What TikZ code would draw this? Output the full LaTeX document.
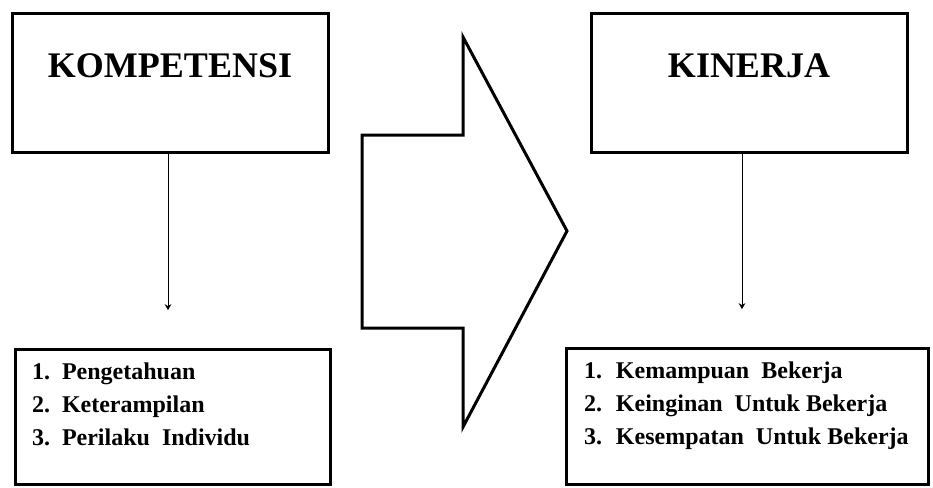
\documentclass[tikz,border=0pt]{standalone}
\usepackage{fontspec}
\setmainfont{Liberation Serif}
\usetikzlibrary{arrows.meta,positioning}

\begin{document}
\begin{tikzpicture}[x=0.75pt,y=-0.75pt,->,>={Stealth[length=4.5pt,width=5pt]},line width=0.75pt,
  box/.style={draw,rectangle,line width=2.25pt,inner sep=0pt},
  title/.style={font=\fontsize{27}{30}\selectfont\bfseries,inner sep=0pt},
  items/.style={font=\fontsize{18}{24.75}\selectfont\bfseries,align=left,inner sep=0pt}]
        \useasboundingbox (0,0) rectangle (933,487);
        % boxes
        \node [box, minimum width=237pt, minimum height=104.25pt] (komp) at (170,82.5) {};
        \node [box, minimum width=237pt, minimum height=104.25pt] (kin) at (749,82.5) {};
        \node [box, minimum width=236.25pt, minimum height=101.25pt] (kompList) at (172.5,416.5) {};
        \node [box, minimum width=271.5pt, minimum height=102pt] (kinList) at (747,416) {};
        % texts
        \node [title, below=31.5pt of komp.north] (kompTitle) {KOMPETENSI};
        \node [title, below=31.5pt of kin.north] (kinTitle) {KINERJA};
        \node [items, below right=11.5pt and 13.5pt of kompList.north west] (kompItems)
          {\makebox[22.5pt][l]{1.}Pengetahuan\\
           \makebox[22.5pt][l]{2.}Keterampilan\\
           \makebox[22.5pt][l]{3.}Perilaku\ \ Individu};
        \node [items, below right=11.5pt and 14.25pt of kinList.north west] (kinItems)
          {\makebox[24pt][l]{1.}Kemampuan\ \ Bekerja\\
           \makebox[24pt][l]{2.}Keinginan\ \ Untuk Bekerja\\
           \makebox[24pt][l]{3.}Kesempatan\ \ Untuk Bekerja};
        % connectors
        \draw [shorten >=28pt] ([xshift=-1.5pt]komp.south) -- ([xshift=-1.5pt]komp.south |- kompList.north);
        \draw [shorten >=28pt] ([xshift=-5.25pt]kin.south) -- ([xshift=-5.25pt]kin.south |- kinList.north);
        % big arrow
        \draw [-, line width=2.25pt] (362,135) -- (463,135) -- (463,37) -- (567,231)
          -- (463,427) -- (463,328) -- (362,328) -- cycle;
\end{tikzpicture}
\end{document}
